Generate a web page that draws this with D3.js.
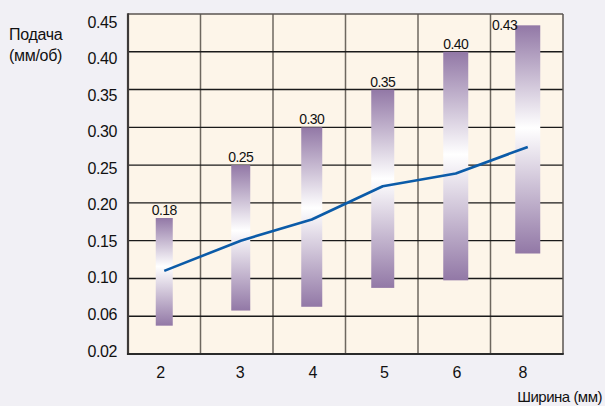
<!DOCTYPE html>
<html><head><meta charset="utf-8">
<script src="https://cdn.jsdelivr.net/npm/d3@7"></script>
<style>
html,body{margin:0;padding:0;background:#f1f0f5;}
svg{display:block;font-family:"Liberation Sans",Arial,sans-serif;}
</style></head>
<body>
<svg id="chart" width="605" height="406"></svg>
<script>
const categories = ["2","3","4","5","6","8"];
const maxFeed = [0.18, 0.25, 0.30, 0.35, 0.40, 0.435];
const minFeed = [0.05, 0.066, 0.07, 0.09, 0.098, 0.133];
const maxLabels = ["0.18","0.25","0.30","0.35","0.40","0.43"];
const recFeed = [0.110, 0.150, 0.178, 0.222, 0.239, 0.274];
const yTicks = [0.02, 0.06, 0.10, 0.15, 0.20, 0.25, 0.30, 0.35, 0.40, 0.45];
const yTickLabels = ["0.02","0.06","0.10","0.15","0.20","0.25","0.30","0.35","0.40","0.45"];

const svg = d3.select("#chart");
const L = 128, R = 563, T = 14, B = 354;
// layout styling (not data)
const barWidths = [17, 19, 21, 23, 25, 25];
const barShift = [0, 4, 2.5, 1, 1.5, 1];
const labelShift = [-3.5, 3.5, 3.7, 2.8, 2.7, -3.8];

const x = d3.scaleBand().domain(categories).range([L, R]).padding(0);
const yRange = yTicks.map((d, i) => B - i * (B - T) / (yTicks.length - 1));
const y = d3.scaleLinear().domain(yTicks).range(yRange);
const yLab = d3.scaleLinear().domain(yTicks)
  .range(yTicks.map((d, i) => 351 - i * (351 - 22) / (yTicks.length - 1)));

svg.append("rect").attr("x", L).attr("y", T).attr("width", R - L).attr("height", B - T).attr("fill", "#fdf5e9");

svg.append("g").selectAll("line").data(categories.slice(1)).join("line")
  .attr("x1", d => x(d)).attr("x2", d => x(d)).attr("y1", T).attr("y2", B)
  .attr("stroke", "#6e675f").attr("stroke-width", 1.5);
svg.append("g").selectAll("line").data(yTicks.slice(1, -1)).join("line")
  .attr("x1", L).attr("x2", R).attr("y1", d => y(d)).attr("y2", d => y(d))
  .attr("stroke", "#1a1a1a").attr("stroke-width", 1.4);

svg.append("line").attr("x1", L).attr("x2", R).attr("y1", T).attr("y2", T).attr("stroke", "#5a5550").attr("stroke-width", 1.5);
svg.append("line").attr("x1", R).attr("x2", R).attr("y1", T).attr("y2", B).attr("stroke", "#5a5550").attr("stroke-width", 1.5);
svg.append("line").attr("x1", L).attr("x2", L).attr("y1", T - 0.75).attr("y2", B + 1).attr("stroke", "#3e3a38").attr("stroke-width", 2.2);
svg.append("line").attr("x1", L - 1).attr("x2", R + 0.75).attr("y1", B).attr("y2", B).attr("stroke", "#2a2a2a").attr("stroke-width", 2.2);

const defs = svg.append("defs");
const grad = defs.append("linearGradient").attr("id", "barGrad").attr("x1", 0).attr("x2", 0).attr("y1", 0).attr("y2", 1);
grad.append("stop").attr("offset", "0%").attr("stop-color", "#9278a6");
grad.append("stop").attr("offset", "45%").attr("stop-color", "#ffffff");
grad.append("stop").attr("offset", "100%").attr("stop-color", "#9278a6");

const cx = (d, i) => x(d) + x.bandwidth() / 2 + barShift[i];

svg.append("g").selectAll("rect").data(categories).join("rect")
  .attr("x", (d, i) => cx(d, i) - barWidths[i] / 2)
  .attr("width", (d, i) => barWidths[i])
  .attr("y", (d, i) => y(maxFeed[i]))
  .attr("height", (d, i) => y(minFeed[i]) - y(maxFeed[i]))
  .attr("fill", "url(#barGrad)");

const line = d3.line().x(d => cx(d[0], d[2])).y(d => y(d[1]));
svg.append("path").datum(categories.map((c, i) => [c, recFeed[i], i]))
  .attr("d", line).attr("fill", "none").attr("stroke", "#0b5ba8").attr("stroke-width", 2.6)
  .attr("stroke-linejoin", "round");

const last = categories.length - 1;
svg.append("g").selectAll("text").data(categories).join("text")
  .attr("x", (d, i) => i === last ? cx(d, i) - barWidths[i] / 2 + 2 : cx(d, i))
  .attr("y", (d, i) => i === last ? y(maxFeed[i]) + 5 : y(maxFeed[i]) - 3)
  .attr("text-anchor", (d, i) => i === last ? "end" : "middle")
  .attr("font-size", 14).attr("letter-spacing", -0.5).attr("fill", "#111")
  .text((d, i) => maxLabels[i]);

svg.append("g").selectAll("text").data(yTicks).join("text")
  .attr("x", 117).attr("y", d => yLab(d)).attr("dy", "0.35em")
  .attr("text-anchor", "end").attr("font-size", 16).attr("letter-spacing", -0.4).attr("fill", "#111")
  .text((d, i) => yTickLabels[i]);

svg.append("g").selectAll("text").data(categories).join("text")
  .attr("x", (d, i) => x(d) + x.bandwidth() / 2 + labelShift[i]).attr("y", 378)
  .attr("text-anchor", "middle").attr("font-size", 16).attr("fill", "#111")
  .text(d => d);

svg.append("text").attr("x", 9).attr("y", 40).attr("font-size", 16).attr("letter-spacing", -0.3).attr("fill", "#111").text("Подача");
svg.append("text").attr("x", 9).attr("y", 61).attr("font-size", 16).attr("letter-spacing", -0.3).attr("fill", "#111").text("(мм/об)");
svg.append("text").attr("x", 602).attr("y", 402).attr("text-anchor", "end").attr("font-size", 15).attr("letter-spacing", -0.5).attr("fill", "#111").text("Ширина (мм)");
</script>
</body></html>
